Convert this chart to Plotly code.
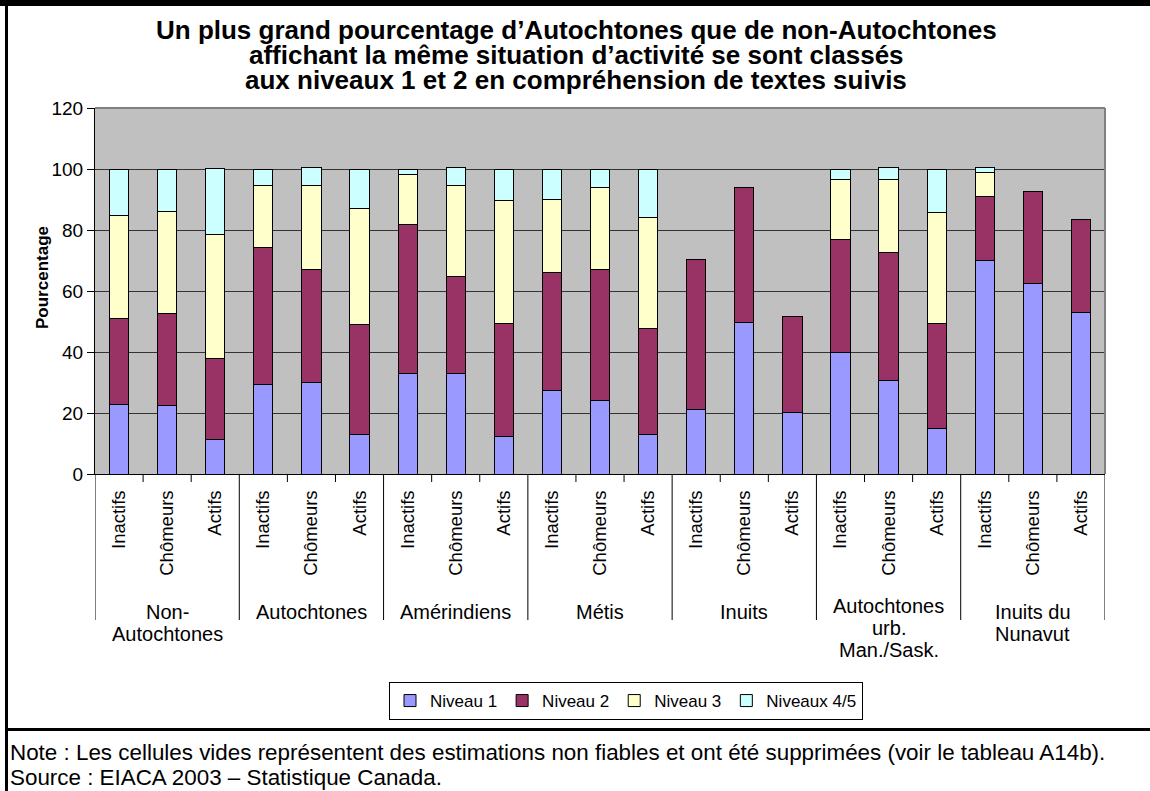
import plotly.graph_objects as go

# ---------------- data ----------------
groups = [
    ["Non-", "Autochtones"],
    ["Autochtones"],
    ["Amérindiens"],
    ["Métis"],
    ["Inuits"],
    ["Autochtones", "urb.", "Man./Sask."],
    ["Inuits du", "Nunavut"],
]
statuses = ["Inactifs", "Chômeurs", "Actifs"]

niveau1 = [22.9, 22.3, 11.3, 29.5, 30.1, 13.0, 32.8, 32.8, 12.4, 27.5, 24.0, 13.0,
           21.1, 49.6, 20.2, 39.9, 30.8, 15.0, 70.1, 62.4, 52.9]
niveau2 = [28.0, 30.3, 26.6, 44.7, 37.0, 36.0, 49.0, 31.9, 37.1, 38.7, 43.0, 34.6,
           49.3, 44.4, 31.5, 36.9, 41.7, 34.2, 20.8, 30.3, 30.7]
niveau3 = [33.9, 33.6, 40.6, 20.4, 27.5, 38.0, 16.5, 29.9, 40.1, 23.7, 27.0, 36.5,
           None, None, None, 19.6, 24.2, 36.7, 8.1, None, None]
niveau45 = [15.2, 13.8, 21.8, 5.4, 5.8, 13.0, 1.7, 5.8, 10.4, 10.1, 6.0, 15.9,
            None, None, None, 3.6, 3.7, 14.1, 1.4, None, None]

series_names = ["Niveau 1", "Niveau 2", "Niveau 3", "Niveaux 4/5"]
series_colors = ["#9999FF", "#993366", "#FFFFCC", "#CCFFFF"]

title_lines = [
    "Un plus grand pourcentage d’Autochtones que de non-Autochtones",
    "affichant la même situation d’activité se sont classés",
    "aux niveaux 1 et 2 en compréhension de textes suivis",
]
note_lines = [
    "Note : Les cellules vides représentent des estimations non fiables et ont été supprimées (voir le tableau A14b).",
    "Source : EIACA 2003 – Statistique Canada.",
]
y_title = "Pourcentage"

# ---------------- layout geometry ----------------
W, H = 1150, 791
L, R, T, B = 95, 1105, 108, 474
FONT = "Arial, Liberation Sans, sans-serif"


def px(xp):
    return (xp - L) / (R - L)


def py(yp):
    return (B - yp) / (B - T)


n_groups = len(groups)
n_sub = len(statuses)
xpos = [g * n_sub + s for g in range(n_groups) for s in range(n_sub)]
ticktext = [statuses[s] for g in range(n_groups) for s in range(n_sub)]

fig = go.Figure()
for name, color, vals in zip(series_names, series_colors,
                             [niveau1, niveau2, niveau3, niveau45]):
    fig.add_trace(go.Bar(
        x=xpos, y=vals, name=name, width=0.4,
        marker=dict(color=color, line=dict(color="black", width=1)),
    ))

shapes = []
# short ticks between bars inside a group, long dividers between groups
for g in range(n_groups):
    for s in range(1, n_sub):
        xv = g * n_sub + s - 0.5
        shapes.append(dict(type="line", xref="x", yref="paper", x0=xv, x1=xv,
                           y0=0, y1=py(482), line=dict(color="black", width=1)))
for g in range(n_groups + 1):
    xv = g * n_sub - 0.5
    shapes.append(dict(type="line", xref="x", yref="paper", x0=xv, x1=xv,
                       y0=0, y1=py(620), line=dict(color="black", width=1)))
# plot-area border (top + right, grey)
shapes.append(dict(type="line", xref="paper", yref="paper", x0=0, x1=1, y0=1, y1=1,
                   line=dict(color="#808080", width=2)))
shapes.append(dict(type="line", xref="paper", yref="paper", x0=1, x1=1, y0=0, y1=1,
                   line=dict(color="#808080", width=2)))
# outer frame
shapes.append(dict(type="rect", xref="paper", yref="paper", x0=px(0), x1=px(W),
                   y0=py(6), y1=py(0), fillcolor="black", line=dict(width=0)))
shapes.append(dict(type="rect", xref="paper", yref="paper", x0=px(5), x1=px(8),
                   y0=py(H), y1=py(0), fillcolor="black", line=dict(width=0)))
shapes.append(dict(type="rect", xref="paper", yref="paper", x0=px(5), x1=px(W),
                   y0=py(731), y1=py(728), fillcolor="black", line=dict(width=0)))

annotations = []
# title
for i, t in enumerate(title_lines):
    annotations.append(dict(text="<b>" + t + "</b>", xref="paper", yref="paper",
                            x=px(576), y=py(30 + 25 * i), xanchor="center",
                            yanchor="middle", showarrow=False,
                            font=dict(family=FONT, size=26, color="black")))
# y title
annotations.append(dict(text="<b>" + y_title + "</b>", xref="paper", yref="paper",
                        x=px(42), y=py(278), textangle=-90, showarrow=False,
                        xanchor="center", yanchor="middle",
                        font=dict(family=FONT, size=17, color="black")))
# group labels
for g, lines in enumerate(groups):
    top = 612 if len(lines) < 3 else 606
    for k, line in enumerate(lines):
        annotations.append(dict(text=line, xref="x", yref="paper",
                                x=g * n_sub + 1, y=py(top + 22 * k),
                                xanchor="center", yanchor="middle", showarrow=False,
                                font=dict(family=FONT, size=20, color="black")))
# notes
for i, t in enumerate(note_lines):
    annotations.append(dict(text=t, xref="paper", yref="paper",
                            x=px(8), y=py(752 + 25 * i), xanchor="left",
                            yanchor="middle", showarrow=False,
                            font=dict(family=FONT, size=22.4, color="black")))

fig.update_layout(
    width=W, height=H, autosize=False,
    margin=dict(l=L, r=W - R, t=T, b=H - B, pad=0),
    paper_bgcolor="white", plot_bgcolor="#C0C0C0",
    barmode="stack", bargap=0.6,
    font=dict(family=FONT, size=19, color="black"),
    showlegend=True,
    legend=dict(orientation="h", x=px(626), y=py(682), xanchor="center",
                yanchor="top", traceorder="normal", bgcolor="white",
                bordercolor="black", borderwidth=1, itemwidth=30,
                font=dict(family=FONT, size=17, color="black")),
    shapes=shapes,
    annotations=annotations,
)
fig.update_xaxes(range=[-0.5, n_groups * n_sub - 0.5], tickmode="array",
                 tickvals=xpos, ticktext=ticktext, tickangle=-90, ticks="",
                 ticklabelstandoff=8, showline=True, linecolor="black",
                 linewidth=1, showgrid=False, zeroline=False,
                 tickfont=dict(family=FONT, size=18.5, color="black"))
fig.update_yaxes(range=[0, 120], dtick=20, showline=True, linecolor="black",
                 linewidth=1, ticks="outside", ticklen=7, tickcolor="black",
                 showgrid=True, gridcolor="#333333", gridwidth=1, zeroline=False,
                 tickfont=dict(family=FONT, size=19, color="black"))

fig.write_html("out.html", config={"displayModeBar": False},
               post_script="document.body.style.margin='0px';")
